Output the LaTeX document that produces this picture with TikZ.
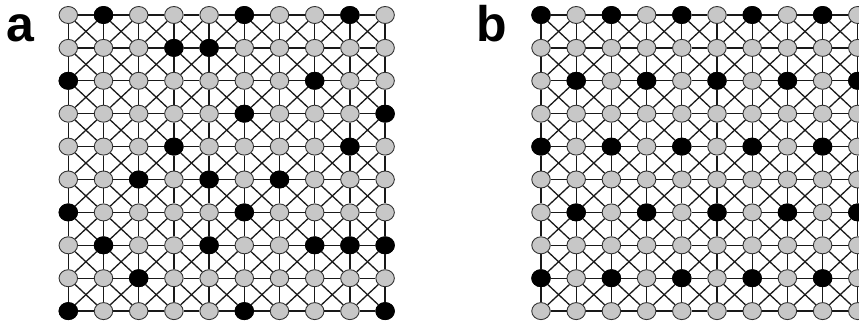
\documentclass[tikz,border=0pt]{standalone}
\usepackage{fontspec}
\setsansfont{Liberation Sans}
\usetikzlibrary{shapes.geometric}

\begin{document}
\begin{tikzpicture}[
  x=1pt, y=-1pt,
  site/.style={draw=black!80, ellipse, fill=black!22, minimum width=18.5pt, minimum height=17pt, inner sep=0pt, line width=0.9pt},
  occ/.style={site, draw=black, fill=black},
  bond/.style={line width=1.3pt, black!90},
  panel/.style={font=\sffamily\bfseries\fontsize{50}{50}\selectfont, inner sep=0pt, anchor=base}
]
\useasboundingbox (0,0) rectangle (859,326);
\clip (0,0) rectangle (859,326);
% lattice sites
\foreach \p/\xo in {a/68.3, b/541}
  \foreach \i in {0,...,9}
    \foreach \j in {0,...,9}
      \node[site] (\p-\i-\j) at (\xo+35.2*\j, 15+32.9*\i) {};
% occupied sites, panel a
\foreach \i/\j in {0/1,0/5,0/8,1/3,1/4,2/0,2/7,3/5,3/9,4/3,4/8,5/2,5/4,5/6,6/0,6/5,
                   7/1,7/4,7/7,7/8,7/9,8/2,9/0,9/5,9/9}
  \node[occ] (a-\i-\j) at (a-\i-\j) {};
% occupied sites, panel b
\foreach \i/\s in {0/0,2/1,4/0,6/1,8/0}
  \foreach \j in {0,2,4,6,8} {
    \pgfmathtruncatemacro\k{\j+\s}
    \node[occ] (b-\i-\k) at (b-\i-\k) {};
  }
% bonds
\foreach \p in {a,b}
  \foreach \i in {0,...,9}
    \foreach \j in {0,...,8} {
      \pgfmathtruncatemacro\jj{\j+1}
      \draw[bond] (\p-\i-\j) -- (\p-\i-\jj);
      \draw[bond] (\p-\j-\i) -- (\p-\jj-\i);
    }
\foreach \p in {a,b}
  \foreach \i in {0,...,8}
    \foreach \j in {0,...,8} {
      \pgfmathtruncatemacro\ii{\i+1}
      \pgfmathtruncatemacro\jj{\j+1}
      \draw[bond] (\p-\i-\j) -- (\p-\ii-\jj);
      \draw[bond] (\p-\i-\jj) -- (\p-\ii-\j);
    }
\node[panel] (la) at (20,42) {a};
\node[panel] (lb) at (492,42) {b};
\end{tikzpicture}
\end{document}
